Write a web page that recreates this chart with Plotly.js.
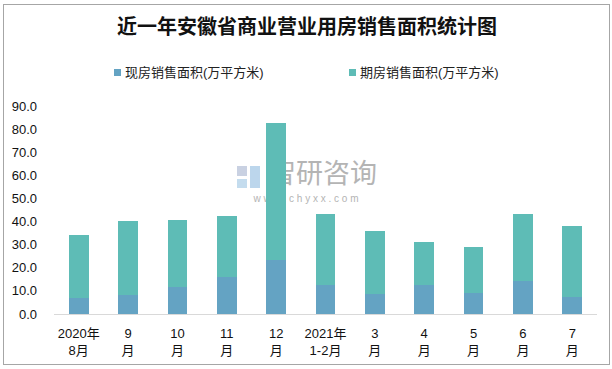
<!DOCTYPE html>
<html><head><meta charset="utf-8">
<script src="https://cdn.plot.ly/plotly-3.0.1.min.js"></script>
<style>
body{margin:0;padding:0;background:#fff;}
#wrap{position:relative;width:612px;height:369px;}
#chart{width:612px;height:369px;}
#frame{position:absolute;left:3px;top:4px;width:605px;height:359px;border:1px solid #a6a6a6;pointer-events:none;}
</style></head>
<body><div id="wrap"><div id="chart"></div><div id="frame"></div></div>
<script>
const categories = ["2020年<br>8月","9<br>月","10<br>月","11<br>月","12<br>月","2021年<br>1-2月","3<br>月","4<br>月","5<br>月","6<br>月","7<br>月"];
const spotSales = [7.0, 8.2, 11.7, 16.0, 23.4, 12.5, 8.7, 12.5, 9.1, 14.3, 7.4];
const futureSales = [27.2, 32.0, 29.0, 26.4, 59.2, 30.8, 27.2, 18.7, 19.9, 29.0, 30.7];
const yTicks = [0,10,20,30,40,50,60,70,80,90];
const seriesNames = ["现房销售面积(万平方米)","期房销售面积(万平方米)"];
const seriesColors = ['#64a3c3', '#5ebcb6'];

const L=54, R=15, T=106, B=55, W=612, H=369;
const pw=W-L-R, ph=H-T-B;
const px=x=>(x-L)/pw, py=y=>(H-B-y)/ph;

const font = "Liberation Sans, Arial, Noto Sans CJK SC, sans-serif";
const traces = [
 {type:'bar', x:categories, y:spotSales, name:seriesNames[0], marker:{color:seriesColors[0]}, hoverinfo:'y'},
 {type:'bar', x:categories, y:futureSales, name:seriesNames[1], marker:{color:seriesColors[1]}, hoverinfo:'y'}
];
const shapes = [
 {type:'rect', layer:'below', xref:'paper', yref:'paper', x0:px(237), x1:px(247), y0:py(176), y1:py(166), fillcolor:'#c9d1e2', line:{width:0}},
 {type:'rect', layer:'below', xref:'paper', yref:'paper', x0:px(237), x1:px(247), y0:py(188), y1:py(179), fillcolor:'#c4dcee', line:{width:0}},
 {type:'rect', layer:'below', xref:'paper', yref:'paper', x0:px(250), x1:px(260), y0:py(188), y1:py(166), fillcolor:'#bcd6ec', line:{width:0}},
 {type:'rect', layer:'below', xref:'paper', yref:'paper', x0:px(266), x1:px(380), y0:py(188), y1:py(162), fillcolor:'rgba(0,0,0,0)', line:{width:0},
  label:{text:'智研咨询', font:{family:'Noto Sans CJK SC', size:27, color:'#b4b4b4'}, textposition:'middle center'}},
 {type:'rect', layer:'below', xref:'paper', yref:'paper', x0:px(232), x1:px(380), y0:py(204), y1:py(190), fillcolor:'rgba(0,0,0,0)', line:{width:0},
  label:{text:'w w w . c h y x x . c o m', font:{family:font, size:10, color:'#b4b4b4'}, textposition:'middle center'}}
];
// manual legend
const legendX = [114, 349];
const annotations = [];
seriesNames.forEach((n,i)=>{
  shapes.push({type:'rect', xref:'paper', yref:'paper', x0:px(legendX[i]), x1:px(legendX[i]+7), y0:py(76), y1:py(69), fillcolor:seriesColors[i], line:{width:0}});
  annotations.push({xref:'paper', yref:'paper', x:px(legendX[i]+9), y:py(72.5), xanchor:'left', yanchor:'middle', showarrow:false,
    text:n, font:{family:font, size:13, color:'#222'}});
});
const layout = {
 width:W, height:H, barmode:'stack', bargap:0.6,
 margin:{l:L, r:R, t:T, b:B},
 paper_bgcolor:'#fff', plot_bgcolor:'#fff',
 title:{text:'<b>近一年安徽省商业营业用房销售面积统计图</b>', x:307/W, xref:'container', xanchor:'center', y:1-27/H, yanchor:'middle',
   font:{family:'Noto Sans CJK SC', size:20, color:'#111'}},
 showlegend:false,
 xaxis:{type:'category', showgrid:false, zeroline:false, showline:true, linecolor:'#d9d9d9', linewidth:1, ticks:'',
   tickfont:{family:font, size:13, color:'#111'}, ticklabelstandoff:7, fixedrange:true},
 yaxis:{range:[0,90], tickvals:yTicks, tickformat:'.1f', showgrid:false, zeroline:false, showline:false, ticks:'',
   tickfont:{family:font, size:13, color:'#111'}, ticklabelstandoff:16, fixedrange:true},
 shapes:shapes, annotations:annotations
};
Plotly.newPlot('chart', traces, layout, {displayModeBar:false, staticPlot:true});
</script></body></html>
